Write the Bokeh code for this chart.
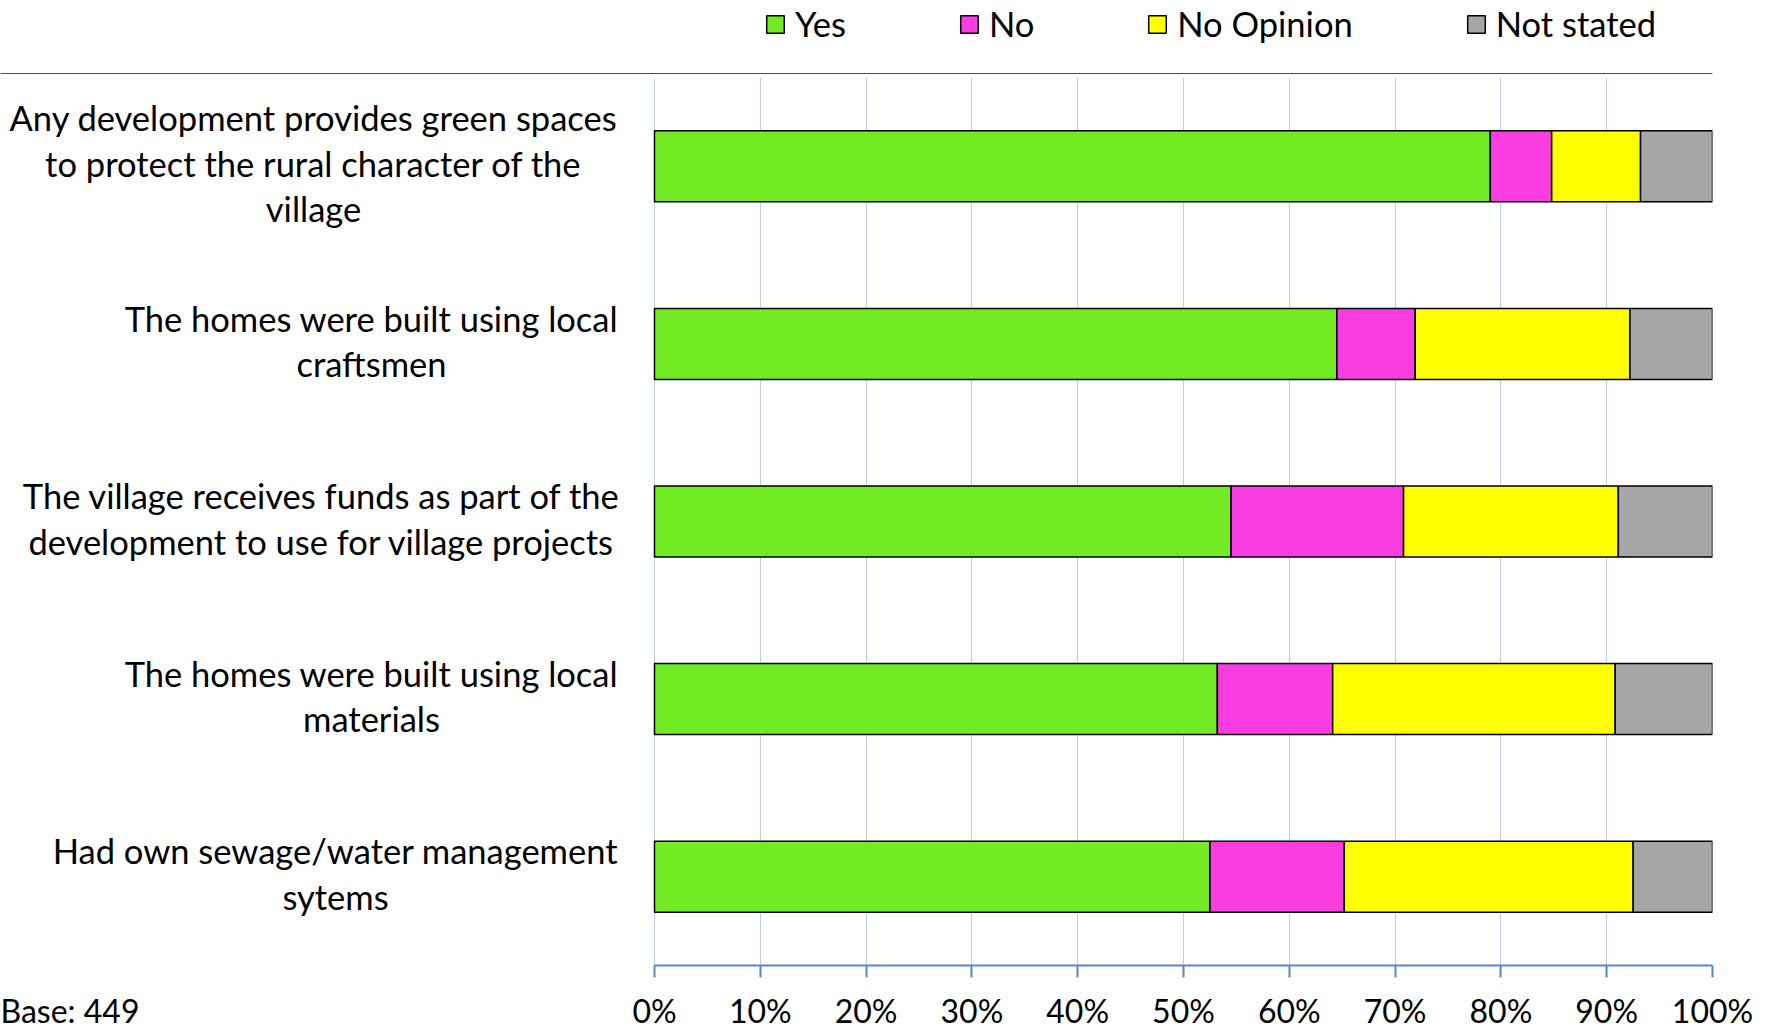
from bokeh.plotting import figure
from bokeh.models import (ColumnDataSource, FactorRange, Range1d, FixedTicker,
                          Legend, LegendItem, LinearAxis)
from bokeh.layouts import column
from bokeh.core.properties import value
from bokeh.embed import file_html
from bokeh.resources import INLINE

# ---------------- data ----------------
categories = [
    "Any development provides green spaces\nto protect the rural character of the\nvillage",
    "The homes were built using local\ncraftsmen",
    "The village receives funds as part of the\ndevelopment to use for village projects",
    "The homes were built using local\nmaterials",
    "Had own sewage/water management\nsytems",
]
series_names = ["Yes", "No", "No Opinion", "Not stated"]
yes_vals = [79.0, 64.5, 54.5, 53.2, 52.5]
no_vals = [5.8, 7.4, 16.3, 10.9, 12.7]
noop_vals = [8.4, 20.3, 20.3, 26.7, 27.3]
ns_vals = [6.8, 7.8, 8.9, 9.2, 7.5]
tick_values = [0, 10, 20, 30, 40, 50, 60, 70, 80, 90, 100]
tick_labels = ["0%", "10%", "20%", "30%", "40%", "50%", "60%", "70%", "80%", "90%", "100%"]
base_note = "Base: 449"

# ---------------- layout / style ----------------
FONT = "Lato"
FS_CAT = "34.5px"
FS_TICK = "32px"
colors = ["#72EA24", "#FA3DE1", "#FFFF00", "#A6A6A6"]
frame_w, frame_h = 1712, 888
right_border = 55
legend_h = 70
top_gap = 7
shift = 4              # legend strip drawn slightly over the chart's empty top border
left_px = 654          # pixel offset of 0% from frame left
plot_px = frame_w - left_px
x_start = -100.0 * left_px / plot_px
label_center_px = [313, 371, 321, 371, 335]
base_tick = -56

src = ColumnDataSource(dict(cat=categories, yes=yes_vals, no=no_vals,
                            noop=noop_vals, ns=ns_vals))

p = figure(title=None,
           y_range=FactorRange(factors=categories[::-1], range_padding=0),
           x_range=Range1d(x_start, 100),
           frame_width=frame_w, frame_height=frame_h,
           min_border_left=0, min_border_right=right_border, min_border_top=top_gap,
           min_border_bottom=0,
           output_backend="svg", toolbar_location=None)
p.border_fill_color = "white"

rs = p.hbar_stack(["yes", "no", "noop", "ns"], y="cat", height=0.4,
                  color=colors, line_color="black", line_width=1.5, source=src)

# category labels (drawn as text in the left part of the frame)
lab_x = [(c - left_px) * 100.0 / plot_px for c in label_center_px]
lsrc = ColumnDataSource(dict(x=lab_x, y=categories, t=categories))
p.text(x="x", y="y", text="t", source=lsrc, text_font=value(FONT),
       text_font_size=FS_CAT, text_align="center", text_baseline="middle",
       text_line_height=1.11, text_color="black", y_offset=-3)

# axis A: line + tick marks only
p.yaxis.visible = False
ax = p.xaxis[0]
ax.ticker = FixedTicker(ticks=tick_values)
ax.bounds = (0, 100)
ax.axis_line_color = "#5B85C6"
ax.axis_line_width = 2
ax.major_tick_line_color = "#5B85C6"
ax.major_tick_line_width = 2
ax.major_tick_in = 0
ax.major_tick_out = 12
ax.minor_tick_line_color = None
ax.major_label_text_font_size = "0px"
ax.major_label_overrides = {v: "" for v in tick_values}
ax.major_label_standoff = 0

# axis B: tick labels (and the base note) only
lab_ticks = [base_tick] + tick_values
overrides = {v: l for v, l in zip(tick_values, tick_labels)}
overrides[base_tick] = base_note
axb = LinearAxis(ticker=FixedTicker(ticks=lab_ticks), major_label_overrides=overrides,
                 axis_line_color=None, major_tick_line_color=None,
                 minor_tick_line_color=None, major_tick_in=0, major_tick_out=0,
                 major_label_standoff=13, major_label_text_font=FONT,
                 major_label_text_font_size=FS_TICK, major_label_text_color="black")
p.add_layout(axb, "below")

p.xgrid.ticker = FixedTicker(ticks=tick_values)
p.xgrid.grid_line_color = "#B8CCEE"
p.xgrid.grid_line_width = 1
p.ygrid.visible = False
p.outline_line_color = None

# legend strip above the chart (same series colours)
lg = figure(title=None, width=frame_w + right_border, height=legend_h,
            x_range=(0, 1), y_range=(0, 1), x_axis_location=None, y_axis_location=None,
            min_border=0, output_backend="svg", toolbar_location=None)
lg.xgrid.visible = False
lg.ygrid.visible = False
lg.outline_line_color = None
lg.border_fill_color = "white"
lg.background_fill_color = "white"
lg.styles = {"position": "relative", "z-index": "10",
             "transform": "translateY(%dpx)" % shift}
dummy = []
for c in colors:
    dummy.append(lg.hbar(y=[-5], right=[1], height=0.4, color=c,
                         line_color="black", line_width=1.5))
items = [LegendItem(label=n, renderers=[r]) for n, r in zip(series_names, dummy)]
legend = Legend(items=items, orientation="horizontal", nrows=1, ncols=4,
                location=(764, 33 - (77 - legend_h) + shift),
                glyph_width=22, glyph_height=22, label_standoff=9, spacing=112,
                padding=0, margin=0, border_line_color=None,
                background_fill_alpha=0, label_text_font=FONT,
                label_text_font_size=FS_CAT, label_text_color="black")
lg.add_layout(legend)

layout = column(lg, p, spacing=0)
open("out.html", "w").write(file_html(layout, INLINE))
